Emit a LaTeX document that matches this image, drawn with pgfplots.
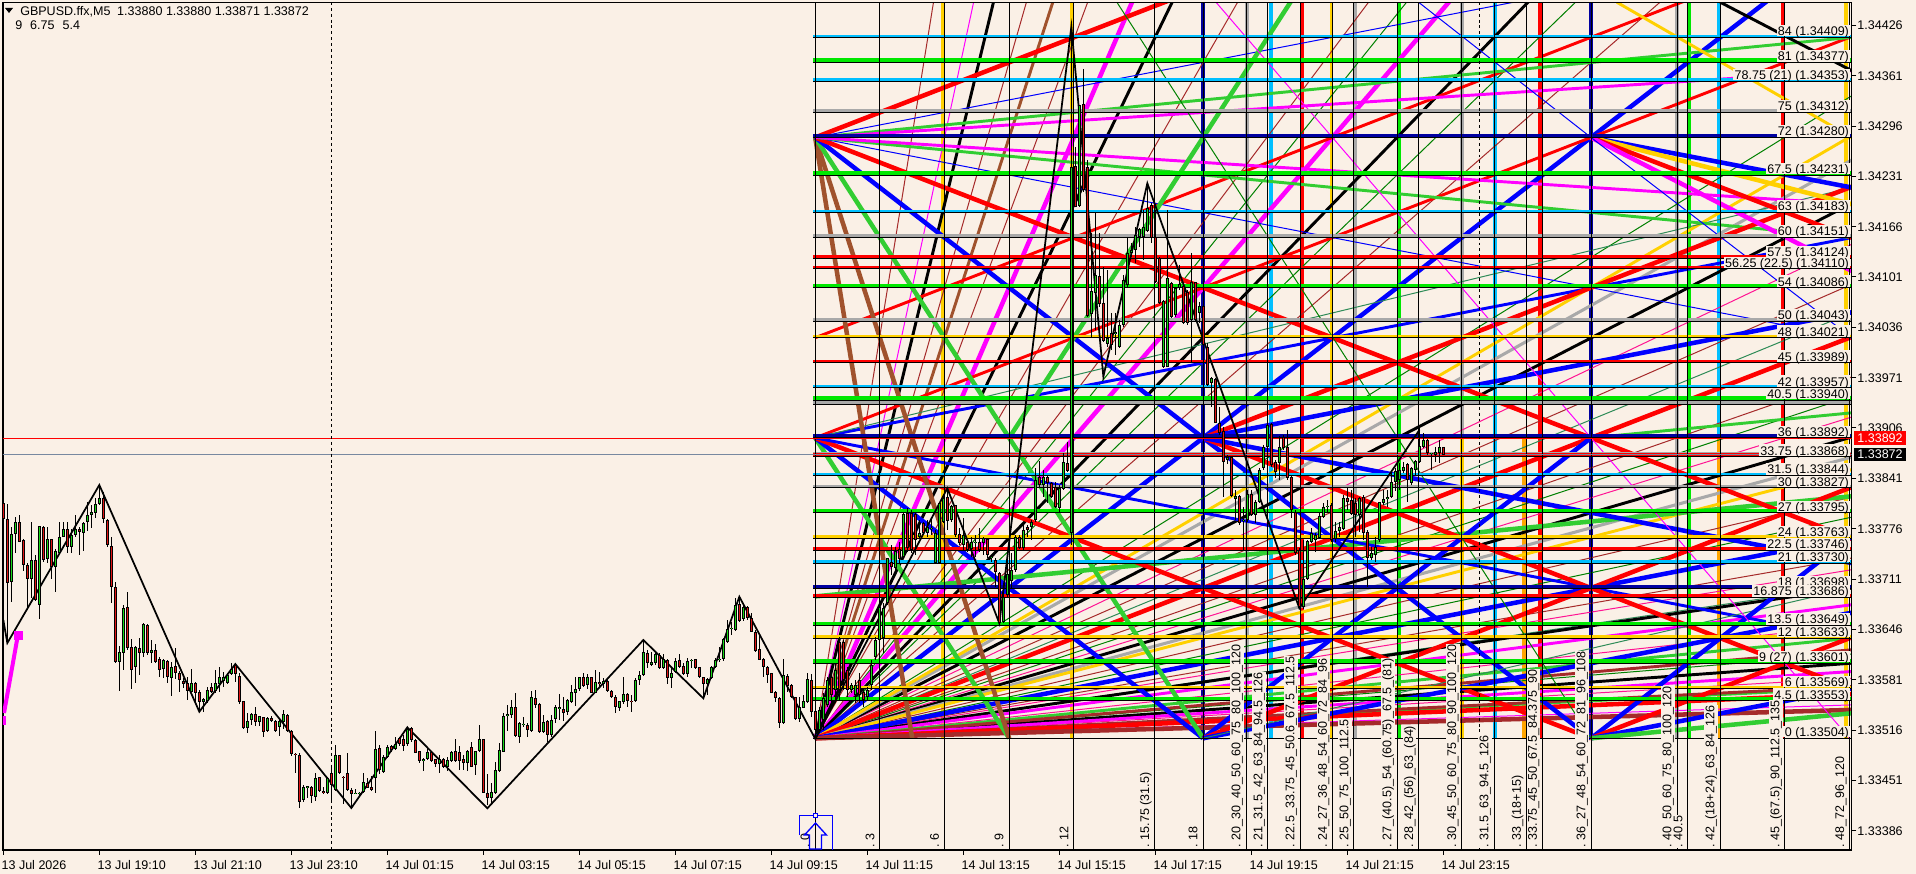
\documentclass[border=0pt]{standalone}
\usepackage{fontspec}
\setmainfont{Liberation Sans}
\usepackage{pgfplots}
\usepackage{pgfplotstable}
\pgfplotsset{compat=1.18}
\definecolor{bg}{HTML}{FAF0E6}
\definecolor{gRed}{HTML}{FF0000}
\definecolor{gBlue}{HTML}{0000FF}
\definecolor{gNavy}{HTML}{0000A0}
\definecolor{gLime}{HTML}{00E800}
\definecolor{gFan}{HTML}{32CD32}
\definecolor{gMag}{HTML}{FF00FF}
\definecolor{gBrown}{HTML}{A0522D}
\definecolor{gGold}{HTML}{FFD000}
\definecolor{gOrange}{HTML}{FFA500}
\definecolor{gCyan}{HTML}{00BFFF}
\definecolor{gGrey}{HTML}{A9A9A9}
\definecolor{tBrown}{HTML}{A52A2A}
\definecolor{tGreen}{HTML}{008000}
\definecolor{tPink}{HTML}{FF1493}
\definecolor{tSea}{HTML}{2E8B57}
\definecolor{cGreen}{HTML}{18D818}
\definecolor{cRed}{HTML}{E01414}
\definecolor{blueGrey}{HTML}{7788A0}
\newcommand\F{\fontsize{9.4}{11}\selectfont}
\newcommand\wT{3.4pt}
\newcommand\wM{2.2pt}
\newcommand\wN{0.75pt}
\newcommand\G[3]{\addplot[#1,line width=#2] coordinates {#3};}
\newcommand\Lv[3]{\addplot[#1,line width=#3,yshift=0.5*#3] coordinates {(-0.1,#2)(48.1,#2)};\addplot[black,line width=0.75pt] coordinates {(-0.1,#2)(48.1,#2)};}
\newcommand\Vc[3]{\addplot[#1,line width=3pt] coordinates {(#2,0)(#2,88.3)};}
\newcommand\Bk[1]{\addplot[black,line width=0.75pt] coordinates {(#1,-13.4)(#1,88.3)};}
% body top, body bottom, wick top, wick bottom (chart rows), d=1 falling bar, d=0 rising bar
\pgfplotstableread{
k t b h l d
0 503 519 502 535 1
1 519 583 504 643 1
2 534 582 527 602 0
3 522 534 517 553 0
4 522 542 515 542 1
5 540 565 539 571 1
6 565 579 563 610 1
7 560 579 522 598 0
8 560 600 555 601 1
9 526 605 526 619 0
10 527 560 526 562 1
11 539 559 527 563 0
12 539 567 539 579 1
13 551 567 549 592 0
14 537 553 522 553 0
15 529 537 522 537 0
16 529 547 522 553 1
17 535 547 529 553 0
18 529 535 515 537 0
19 529 532 527 555 1
20 523 533 522 551 0
21 515 522 502 531 0
22 512 515 505 528 0
23 504 513 498 518 0
24 498 504 487 505 0
25 498 519 492 523 1
26 520 545 519 547 1
27 546 587 537 603 1
28 587 662 582 663 1
29 652 662 646 691 0
30 608 653 605 670 0
31 607 648 592 650 1
32 647 670 639 689 1
33 647 667 646 683 0
34 648 653 638 675 1
35 624 653 623 657 0
36 625 653 624 655 1
37 650 653 640 663 0
38 650 662 644 663 1
39 659 670 657 677 1
40 660 669 659 678 0
41 661 677 660 683 1
42 667 678 662 696 0
43 666 673 648 679 1
44 673 680 671 692 1
45 681 684 678 688 1
46 683 691 677 700 1
47 683 692 669 692 0
48 683 693 682 702 1
49 692 702 690 712 1
50 699 702 698 712 0
51 690 701 687 703 0
52 687 692 683 693 1
53 683 691 670 693 0
54 677 684 667 692 0
55 677 681 672 687 0
56 675 683 673 684 0
57 669 674 663 675 0
58 665 674 663 682 1
59 676 702 673 704 1
60 701 728 701 729 1
61 721 728 713 733 0
62 714 720 713 725 0
63 714 722 707 726 1
64 716 722 716 726 0
65 717 732 717 737 1
66 718 731 717 732 0
67 718 721 716 722 1
68 721 731 720 732 1
69 721 727 719 736 0
70 714 722 710 729 0
71 715 731 714 732 1
72 731 754 730 756 1
73 754 755 753 773 1
74 755 802 753 808 1
75 787 800 785 802 0
76 786 788 786 798 0
77 787 796 786 803 1
78 778 797 773 801 0
79 777 791 777 792 1
80 791 793 787 794 1
81 778 793 777 794 0
82 773 785 768 803 1
83 755 790 745 791 0
84 755 773 755 774 1
85 777 778 776 804 1
86 773 790 753 791 1
87 790 794 788 808 1
88 793 794 789 794 0
89 793 794 792 795 0
90 782 792 773 793 0
91 783 788 778 788 1
92 787 790 776 791 1
93 749 778 731 793 0
94 748 770 745 774 1
95 757 772 755 773 0
96 747 757 745 758 0
97 746 750 745 752 1
98 744 749 737 750 0
99 738 744 737 746 1
100 739 746 735 751 1
101 729 744 727 746 0
102 728 740 727 742 1
103 740 753 739 753 1
104 751 761 751 763 1
105 759 761 758 771 0
106 752 759 748 760 0
107 752 761 751 762 1
108 759 764 759 767 1
109 759 764 755 773 0
110 759 767 758 768 1
111 760 767 757 771 0
112 752 761 751 762 0
113 751 761 739 762 1
114 752 761 746 770 1
115 759 763 755 770 1
116 751 763 750 771 0
117 747 767 742 767 1
118 751 765 751 775 0
119 739 751 725 752 0
120 739 793 739 793 1
121 793 798 774 805 1
122 792 798 783 805 0
123 770 793 762 794 0
124 750 771 743 772 0
125 716 752 713 752 0
126 714 716 705 731 0
127 707 715 700 718 0
128 707 736 693 737 1
129 723 737 722 743 0
130 724 725 717 727 0
131 725 730 723 737 1
132 697 731 691 732 0
133 698 705 690 708 1
134 704 732 703 733 1
135 722 732 715 733 0
136 721 735 720 742 1
137 720 735 715 737 0
138 707 719 705 723 0
139 707 709 694 720 0
140 709 713 697 721 1
141 700 712 699 715 0
142 692 702 685 703 0
143 689 693 677 706 0
144 677 689 677 691 0
145 677 686 673 687 1
146 677 685 674 689 0
147 677 693 677 693 1
148 682 693 670 693 0
149 682 684 672 688 1
150 681 684 678 688 0
151 681 691 678 692 1
152 691 697 690 698 1
153 697 707 695 713 1
154 701 708 701 711 0
155 694 702 677 704 0
156 694 701 693 707 1
157 701 702 695 712 1
158 680 701 678 702 0
159 675 680 671 685 0
160 652 675 640 676 0
161 653 663 650 668 1
162 662 665 652 666 0
163 654 663 653 665 0
164 655 668 653 669 1
165 659 668 654 669 0
166 660 678 659 684 1
167 673 678 668 688 0
168 661 672 658 673 0
169 660 667 654 668 1
170 666 674 663 675 1
171 661 674 658 677 0
172 660 661 659 668 0
173 659 668 659 669 1
174 667 677 667 678 1
175 677 684 677 698 1
176 679 684 678 695 0
177 667 678 666 679 0
178 660 667 658 668 0
179 659 660 647 662 0
180 639 659 638 661 0
181 629 642 620 643 0
182 628 629 622 635 0
183 605 630 598 631 0
184 604 621 598 622 1
185 607 619 604 621 0
186 607 618 606 620 1
187 618 632 613 632 1
188 632 651 630 652 1
189 649 660 635 660 1
190 659 667 658 677 1
191 667 675 666 683 1
192 673 693 673 693 1
193 692 698 691 702 1
194 698 723 697 728 1
195 675 723 659 724 0
196 676 686 674 692 1
197 685 697 684 698 1
198 697 719 697 720 1
199 707 719 697 722 0
200 701 708 695 708 0
201 679 702 673 703 0
202 680 712 674 717 1
203 711 730 711 737 1
204 710 730 707 733 0
205 698 720 693 730 0
206 680 705 677 707 0
207 677 695 673 707 1
208 670 690 663 703 0
209 642 690 637 700 1
210 642 680 640 690 1
211 670 690 667 697 1
212 685 690 683 693 0
213 685 695 680 703 0
214 680 695 673 703 1
215 692 700 690 707 1
216 690 697 687 700 0
217 665 685 660 690 0
218 640 657 637 660 0
219 607 640 603 645 0
220 608 638 603 653 0
221 558 603 558 605 0
222 562 567 545 575 1
223 551 568 547 572 0
224 549 559 542 564 1
225 514 557 512 557 0
226 513 548 508 552 1
227 513 550 510 553 1
228 514 540 513 555 1
229 533 537 520 538 0
230 523 533 522 535 1
231 527 533 520 537 0
232 528 529 520 535 0
233 533 563 530 564 0
234 503 563 503 564 0
235 498 522 497 523 0
236 497 521 488 530 1
237 506 520 505 522 0
238 505 535 505 537 1
239 534 543 528 545 1
240 535 545 518 550 0
241 542 550 540 552 1
242 542 549 537 557 0
243 542 543 535 557 0
244 542 550 528 552 1
245 538 543 537 555 0
246 539 555 538 558 1
247 557 558 555 562 0
248 560 572 558 587 1
249 573 623 572 624 1
250 597 622 583 623 0
251 574 595 557 597 0
252 570 581 553 588 0
253 537 570 535 572 0
254 537 548 535 549 1
255 530 548 525 550 0
256 527 530 525 537 1
257 522 527 520 540 0
258 480 520 468 522 0
259 477 485 461 488 1
260 477 485 470 497 0
261 477 483 476 503 1
262 483 497 482 498 1
263 487 507 482 508 1
264 488 508 485 513 0
265 462 489 453 490 0
266 463 471 442 472 1
267 167 533 28 545 0
268 166 207 147 207 1
269 105 206 105 207 0
270 104 190 69 192 1
271 167 316 160 317 1
272 291 314 233 338 0
273 275 293 213 330 0
274 276 304 233 307 1
275 303 341 267 342 1
276 338 344 270 347 0
277 333 345 313 350 1
278 332 334 313 355 0
279 325 347 320 348 0
280 280 325 275 327 0
281 253 285 237 287 0
282 250 253 243 257 0
283 235 250 227 263 0
284 229 237 228 247 0
285 227 237 210 260 0
286 208 231 183 232 0
287 205 238 203 243 1
288 237 282 210 283 1
289 258 303 257 304 1
290 301 367 300 368 0
291 278 367 210 367 0
292 283 317 282 318 1
293 288 315 287 317 0
294 284 288 265 290 0
295 286 323 285 324 1
296 292 323 290 325 1
297 282 320 253 362 0
298 282 320 282 322 1
299 306 313 302 323 0
300 306 345 305 347 1
301 347 385 343 386 1
302 378 383 377 407 0
303 379 423 378 423 1
304 423 433 407 435 1
305 431 462 427 497 1
306 457 460 455 464 0
307 457 496 457 497 1
308 496 499 490 520 0
309 496 523 495 525 1
310 520 521 507 550 0
311 494 520 490 522 0
312 494 515 490 516 1
313 502 515 500 523 0
314 470 502 468 503 0
315 447 468 445 470 0
316 425 447 423 463 0
317 424 465 423 467 1
318 462 472 460 478 1
319 447 463 436 480 0
320 437 448 435 450 1
321 447 478 430 480 1
322 477 510 475 518 1
323 512 553 510 555 1
324 550 607 548 608 1
325 579 607 540 609 0
326 541 579 540 580 0
327 533 542 528 543 0
328 535 540 533 552 0
329 516 538 513 539 0
330 507 517 503 518 0
331 506 507 500 513 0
332 505 540 503 542 1
333 531 539 522 542 0
334 527 531 522 537 0
335 498 529 495 530 0
336 498 502 487 510 1
337 500 514 490 515 1
338 503 515 498 537 1
339 498 515 497 532 0
340 497 533 495 540 1
341 532 558 530 587 1
342 553 558 547 560 0
343 547 555 537 562 0
344 502 540 502 542 0
345 499 503 490 505 0
346 497 499 490 507 0
347 482 497 472 498 0
348 471 482 468 491 0
349 470 480 463 490 0
350 467 471 462 473 0
351 464 480 463 502 1
352 468 483 467 485 0
353 461 470 460 475 0
354 446 462 427 463 0
355 440 447 433 448 0
356 440 453 439 455 1
357 453 454 453 470 0
358 452 455 447 462 0
359 447 453 440 463 0
360 447 455 447 455 1
}\candles
\begin{document}
\begin{tikzpicture}
\fill[bg] (0,0) rectangle (1437pt,-655.5pt);
\path[use as bounding box] (0,0) rectangle (1437pt,-655.5pt);
% ---------------- level grid, in (time level, price level)
\begin{axis}[name=gann,at={(2.25pt,-1.7pt)},anchor=north west,scale only axis,
 width=1386.4pt,height=635.8pt,hide axis,
 xmin=-37.69,xmax=48.09,ymin=-13.39,ymax=88.2]
% coloured time levels
\Vc{gGold}{5.93}{}
\Vc{gGold}{11.9}{}
\Vc{gNavy}{18}{}
\Vc{gGrey}{20.02}{}
\Vc{gCyan}{21.15}{}
\Vc{gRed}{22.6}{}
\addplot[gGold,line width=2pt] coordinates {(23.95,0)(23.95,88.3)};
\Vc{gGrey}{25.05}{}
\Vc{gLime}{27.1}{}
\addplot[gGrey,line width=3pt] coordinates {(30.0,36)(30.0,88.3)};
\addplot[gGold,line width=3pt] coordinates {(30.0,0)(30.0,36)};
\Vc{gCyan}{31.55}{}
\addplot[gOrange,line width=3pt] coordinates {(32.9,0)(32.9,36)};
\Vc{gRed}{33.65}{}
\Vc{gNavy}{36}{}
\Vc{gGrey}{40}{}
\Vc{gLime}{40.55}{}
\addplot[gCyan,line width=3pt] coordinates {(41.95,36)(41.95,88.3)};
\addplot[gOrange,line width=3pt] coordinates {(41.95,0)(41.95,36)};
\Vc{gRed}{44.9}{}
\Vc{gGold}{47.85}{}
% thin rays from the origin
\G{tBrown}{\wN}{(0,0)(5.6,90)}
\G{tBrown}{\wN}{(0,0)(10,90)}
\G{tBrown}{\wN}{(0,0)(12.9,90)}
\G{tBrown}{\wN}{(0,0)(20,90)}
\G{tBrown}{\wN}{(0,0)(26.2,90)}
\G{tBrown}{\wN}{(0,0)(40,90)}
\G{tBrown}{\wN}{(0,0)(48.1,54.4)}
\G{tBrown}{\wN}{(0,0)(48.1,43.3)}
\G{tBrown}{\wN}{(0,0)(48.1,28.9)}
\G{tBrown}{\wN}{(0,0)(48.1,21.6)}
\G{tGreen}{\wN}{(0,0)(28,90)}
\G{tGreen}{\wN}{(0,0)(36,90)}
\G{tGreen}{\wN}{(0,0)(48.1,77)}
\G{tSea}{\wN}{(0,0)(48.1,51)}
\G{tGreen}{\wN}{(0,0)(48.1,41)}
\G{tGreen}{\wN}{(0,0)(48.1,26.5)}
\G{tSea}{\wN}{(0,0)(48.1,18.3)}
\G{tGreen}{\wN}{(0,0)(48.1,10.1)}
\G{tPink}{\wN}{(0,0)(48.1,59.2)}
\G{tPink}{\wN}{(0,0)(48.1,38.5)}
\G{tPink}{\wN}{(0,0)(48.1,20.2)}
\G{tPink}{\wN}{(0,0)(48.1,13.5)}
\G{tPink}{\wN}{(0,0)(48.1,7.2)}
% main rays from the origin
\G{gBrown}{\wM}{(0,0)(11.25,90)}
\G{gMag}{\wN}{(0,0)(7.5,90)}
\G{gMag}{\wT}{(0,0)(15,90)}
\G{gMag}{\wT}{(0,0)(30,90)}
\G{black}{\wM}{(0,0)(8.44,90)}
\G{black}{\wM}{(0,0)(16.9,90)}
\G{black}{\wM}{(0,0)(33.75,90)}
\G{black}{\wM}{(0,0)(48.1,64.1)}
\G{black}{\wM}{(0,0)(48.1,36.1)}
\G{black}{\wM}{(0,0)(48.1,18)}
\G{black}{\wM}{(0,0)(48.1,9)}
\G{gBlue}{\wT}{(0,0)(45,90)}
\G{gGrey}{2.3pt}{(0,0)(48.1,69.3)}
\G{gGold}{\wM}{(0,0)(48.1,72.2)}
\G{gRed}{\wT}{(0,0)(48.1,48.1)}
\G{gGrey}{2.3pt}{(0,0)(48.1,33.7)}
\G{gGold}{\wM}{(0,0)(48.1,32.2)}
\G{gBlue}{\wT}{(0,0)(48.1,24.05)}
\G{gMag}{\wM}{(0,0)(48.1,16)}
\G{gFan}{\wM}{(0,0)(48.1,12)}
\G{tBrown}{\wM}{(0,0)(48.1,10.6)}
\G{gMag}{\wM}{(0,0)(48.1,8)}
\G{gFan}{\wM}{(0,0)(48.1,6)}
\G{tBrown}{\wM}{(0,0)(48.1,6.2)}
\G{gRed}{\wT}{(0,0)(48.1,5.3)}
\G{gMag}{\wN}{(0,0)(48.1,4)}
\G{tBrown}{\wT}{(0,0)(48.1,3.4)}
% fan from level 17
\G{gFan}{\wT}{(0,17)(48.1,29)}
% fan from (0,36)
\G{gFan}{\wT}{(0,36)(9,0)}
\G{gBlue}{\wT}{(0,36)(18,0)}
\G{gRed}{\wT}{(0,36)(36,0)}
\G{gBlue}{\wM}{(0,36)(48.1,12)}
\G{gRed}{\wM}{(0,36)(48.1,84.1)}
\G{gBlue}{\wM}{(0,36)(48.1,60)}
\G{tSea}{\wN}{(0,36)(48.1,66)}
% fan from (0,48)
\G{gRed}{\wM}{(0,48)(40.5,88.5)}
% fan from (0,72)
\G{gBrown}{\wT}{(0,72)(4.5,0)}
\G{gBrown}{\wT}{(0,72)(9,0)}
\G{gFan}{\wT}{(0,72)(18,0)}
\G{gBlue}{\wT}{(0,72)(36,0)}
\G{gRed}{\wT}{(0,72)(48.1,23.9)}
\G{gBlue}{\wN}{(0,72)(48.1,47.95)}
\G{gFan}{\wM}{(0,72)(48.1,60)}
\G{gMag}{\wM}{(0,72)(48.1,64)}
\G{gRed}{\wT}{(0,72)(16.5,88.5)}
\G{gBlue}{\wN}{(0,72)(33,88.5)}
\G{gFan}{\wM}{(0,72)(48.1,84)}
\G{gMag}{\wM}{(0,72)(48.1,80)}
% fan from (12,36), (18,0), (18,36)
\G{gFan}{\wT}{(9,36)(18,72)(22.5,90)}
\G{gBlue}{\wT}{(18,0)(36,36)}
\G{gRed}{\wT}{(18,0)(48.1,30.1)}
\G{gBlue}{\wT}{(18,0)(48.1,15.05)}
\G{gRed}{\wT}{(18,36)(48.1,66.1)}
\G{gBlue}{\wT}{(18,36)(48.1,51.05)}
\G{gRed}{\wT}{(18,36)(54,0)}
\G{gBlue}{\wT}{(18,36)(48.1,21)}
\G{tSea}{\wN}{(18,0)(48.1,18)}
% fan from (36,0), (36,72)
\G{gBlue}{\wT}{(36,0)(48.1,24.2)}
\G{gRed}{\wT}{(36,0)(48.1,12.1)}
\G{gBlue}{\wT}{(36,0)(48.1,6)}
\G{gFan}{\wT}{(36,0)(48.1,3)}
\G{gBlue}{\wT}{(36,72)(48.1,66)}
\G{gGold}{\wT}{(36,72)(48.1,64)}
\G{gRed}{\wT}{(36,72)(48.1,60)}
\G{gMag}{\wT}{(36,72)(48.1,56)}
\G{gBlue}{\wN}{(36,72)(48.1,48)}
\G{gFan}{\wM}{(36,36)(48.1,39)}
% single thin diagonals
\G{gMag}{\wN}{(18.6,88.2)(48,0)}
\G{tGreen}{\wN}{(14,88.2)(36,0)}
\G{gBlue}{\wN}{(28,88.2)(36,72)}
\G{gGold}{\wM}{(37.2,88.2)(48.1,72)}
\G{black}{\wM}{(42,88.2)(48.1,80)}
% price levels
\Lv{gCyan}{84}{2pt}
\Lv{gLime}{81}{3pt}
\Lv{gCyan}{78.75}{2pt}
\Lv{gGrey}{75}{2.4pt}
\Lv{gNavy}{72}{2.6pt}
\Lv{gLime}{67.5}{3pt}
\Lv{gCyan}{63}{2pt}
\Lv{gGrey}{60}{2.4pt}
\Lv{gRed}{57.5}{2.4pt}
\Lv{gRed}{56.25}{2.4pt}
\Lv{gLime}{54}{3pt}
\Lv{gGrey}{50}{2.4pt}
\Lv{gGold}{48}{2pt}
\Lv{gRed}{45}{2.4pt}
\Lv{gCyan}{42}{2pt}
\Lv{gLime}{40.5}{3pt}
\Lv{gGrey}{40}{2.4pt}
\Lv{gNavy}{36}{2.6pt}
\Lv{gGrey}{34}{2pt}
\Lv{gRed}{33.75}{2.4pt}
\Lv{gCyan}{31.5}{2pt}
\Lv{gGrey}{30}{2.4pt}
\Lv{gLime}{27}{3pt}
\Lv{gGold}{24}{2pt}
\Lv{gRed}{22.5}{2.4pt}
\Lv{gCyan}{21}{2pt}
\Lv{gNavy}{18}{2.6pt}
\Lv{gRed}{16.875}{2.4pt}
\Lv{gLime}{13.5}{3pt}
\Lv{gGold}{12}{2pt}
\Lv{gLime}{9}{3pt}
\Lv{gGold}{6}{2pt}
\Lv{gLime}{4.5}{3pt}
\addplot[black,line width=0.9pt] coordinates {(-0.1,0)(48.1,0)};
% black time levels
\Bk{0}\Bk{3}\Bk{6}\Bk{9}\Bk{12}\Bk{15.75}\Bk{18}\Bk{20}\Bk{21}\Bk{22.5}\Bk{24}\Bk{25}\Bk{27}\Bk{28}\Bk{30}\Bk{31.5}\Bk{33}\Bk{33.75}\Bk{36}\Bk{40}\Bk{40.5}\Bk{42}\Bk{45}\Bk{48}
\end{axis}
% ---------------- price chart, in (bar number, chart row)
\begin{axis}[name=price,at={(2.25pt,-1.7pt)},anchor=north west,scale only axis,
 width=1386.4pt,height=635.8pt,y dir=reverse,
 xmin=-0.0825,xmax=462.04,ymin=2.3,ymax=850,
 axis line style={black,line width=0.9pt},
 tick align=outside,major tick length=3.7pt,
 tick style={black,line width=0.75pt},
 xtick pos=bottom,ytick pos=right,yticklabel pos=right,
 xtick={0,24,48,72,96,120,144,168,192,216,240,264,288,312,336,360},
 xticklabels={13 Jul 2026,13 Jul 19:10,13 Jul 21:10,13 Jul 23:10,14 Jul 01:15,14 Jul 03:15,14 Jul 05:15,14 Jul 07:15,14 Jul 09:15,14 Jul 11:15,14 Jul 13:15,14 Jul 15:15,14 Jul 17:15,14 Jul 19:15,14 Jul 21:15,14 Jul 23:15},
 xticklabel style={font=\F,anchor=north west,xshift=-1.5pt,yshift=-0.5pt,inner xsep=0pt},
 ytick={25.7,76,126.3,176.5,226.8,277,327.4,377.7,428,478.5,528.8,579,629.4,679.7,730,780.4,830.7},
 yticklabels={1.34426,1.34361,1.34296,1.34231,1.34166,1.34101,1.34036,1.33971,1.33906,1.33841,1.33776,1.33711,1.33646,1.33581,1.33516,1.33451,1.33386},
 yticklabel style={font=\F,anchor=west,xshift=-0.5pt,inner xsep=1pt}]
\addplot[gRed,line width=0.75pt] coordinates {(-1,438.3)(463,438.3)};
\addplot[blueGrey,line width=0.75pt] coordinates {(-1,454.3)(463,454.3)};
\addplot[black,line width=0.75pt,dash pattern=on 2.2pt off 2.2pt] coordinates {(82,2)(82,850)};
\addplot[black,line width=0.6pt,dash pattern=on 2.2pt off 2.2pt] coordinates {(369,2)(369,850)};
\addplot[gMag,line width=3pt] coordinates {(0.17,713)(3.6,636)};
\addplot[gMag,line width=3pt] coordinates {(0.17,716)(0.17,725)};
\addplot[only marks,gMag,mark=square*,mark size=2.9pt] coordinates {(3.8,635)};
\addplot[black,line width=1.3pt] coordinates {(0,620)(1,643)(24,485)(49,711.7)(58,664)(87,808)(101,727.3)(121,808.3)(160,640)(175,698.3)(184,596.7)(203,739)(236,488.3)(249,623.3)(267,26.7)(275,376.7)(286,183.3)(324,608.3)(354,430)};
% wicks
\addplot[draw=none,mark=none,error bars/.cd,y dir=plus,y explicit,error mark=none,error bar style={draw=black,solid,line width=0.75pt}] table[x=k,y=h,y error expr=\thisrow{l}-\thisrow{h}] {\candles};
% bodies
\addplot[draw=none,mark=none,error bars/.cd,y dir=plus,y explicit,error mark=none,error bar style={draw=black,solid,line width=2.4pt}] table[x=k,y=t,y error expr=\thisrow{b}-\thisrow{t}] {\candles};
\addplot[draw=none,mark=none,restrict expr to domain={\thisrow{d}}{0.5:1.5},error bars/.cd,y dir=plus,y explicit,error mark=none,error bar style={draw=cRed,solid,line width=1.15pt}] table[x=k,y expr=\thisrow{t}+0.7,y error expr=\thisrow{b}-\thisrow{t}-1.4] {\candles};
\addplot[draw=none,mark=none,restrict expr to domain={\thisrow{d}}{-0.5:0.5},error bars/.cd,y dir=plus,y explicit,error mark=none,error bar style={draw=cGreen,solid,line width=1.15pt}] table[x=k,y expr=\thisrow{t}+0.7,y error expr=\thisrow{b}-\thisrow{t}-1.4] {\candles};
\end{axis}
% ---------------- texts, in image pixels
\begin{scope}[x=0.75pt,y=-0.75pt,font=\F]
\tikzset{hl/.style={anchor=south east,fill=bg,inner xsep=1pt,inner ysep=0pt,text height=8pt,text depth=0.6pt},
         vl/.style={rotate=90,anchor=west,fill=bg,inner xsep=0.5pt,inner ysep=0.5pt,text height=7.2pt,text depth=2pt}}
\foreach \y/\t in {37.3/84 (1.34409),62.4/81 (1.34377),81.1/78.75 (21) (1.34353),112.4/75 (1.34312),137.5/72 (1.34280),175/67.5 (1.34231),212.6/63 (1.34183),237.6/60 (1.34151),258.5/57.5 (1.34124),268.9/56.25 (22.5) (1.34110),287.7/54 (1.34086),321/50 (1.34043),337.7/48 (1.34021),362.8/45 (1.33989),387.8/42 (1.33957),400.3/40.5 (1.33940),437.9/36 (1.33892),456.7/33.75 (1.33868),475.4/31.5 (1.33844),488/30 (1.33827),513/27 (1.33795),538/24 (1.33763),550.5/22.5 (1.33746),563/21 (1.33730),588.1/18 (1.33698),597.5/16.875 (1.33686),625.6/13.5 (1.33649),638.2/12 (1.33633),663.2/9 (27) (1.33601),688.2/6 (1.33569),700.7/4.5 (1.33553),738.3/0 (1.33504)}
 {\node[hl] at (1850.5,\y-0.6) {\t};}
\foreach \x/\t in {806/0,871/3,935.5/6,1000/9,1065/12,1145.6/15.75 (31.5),1194/18,1237/20\_30\_40\_50\_60\_75\_80\_100\_120,1259/21\_31.5\_42\_63\_84\_94.5\_126,1291/22.5\_33.75\_45\_50.6\_67.5\_112.5,1323.4/24\_27\_36\_48\_54\_60\_72\_84\_96,1345/25\_50\_75\_100\_112.5,1388/27\_(40.5)\_54\_(60.75)\_67.5\_(81),1409.6/28\_42\_(56)\_63\_(84),1452.7/30\_45\_50\_60\_75\_80\_90\_100\_120,1485/31.5\_63\_94.5\_126,1517.4/33\_(18+15),1533.5/33.75\_45\_50\_67.5\_84.375\_90,1582/36\_27\_48\_54\_60\_72\_81\_96\_108,1668/40\_50\_60\_75\_80\_100\_120,1679/40.5,1711/42\_(18+24)\_63\_84\_126,1776/45\_(67.5)\_90\_112.5\_135,1840.6/48\_72\_96\_120}
 {\node[vl] at (\x,848.5) {.\hspace{3pt}\t};}
\fill[gRed] (1854,431) rectangle (1906,445);
\node[text=white] at (1880,438) {1.33892};
\fill[black] (1854,448) rectangle (1906,461);
\node[text=white] at (1880,454.5) {1.33872};
\fill[black] (5,8) -- (13,8) -- (9,13) -- cycle;
\node[anchor=west,inner sep=0pt] at (20,11.5) {GBPUSD.ffx,M5\hspace{5pt}1.33880 1.33880 1.33871 1.33872};
\node[anchor=west,inner sep=0pt] at (15,25.5) {9\hspace{6pt}6.75\hspace{6pt}5.4};
\draw[gBlue,line width=0.75pt] (799,835) -- (799,815) -- (832,815) -- (832,850);
\draw[gBlue,line width=1pt] (815.5,823) -- (804.5,835) -- (809.5,835) -- (809.5,849) -- (821.5,849) -- (821.5,835) -- (826.5,835) -- cycle;
\draw[gBlue,fill=bg,line width=0.6pt] (813,813) rectangle (817.5,817);
\end{scope}
\end{tikzpicture}
\end{document}
